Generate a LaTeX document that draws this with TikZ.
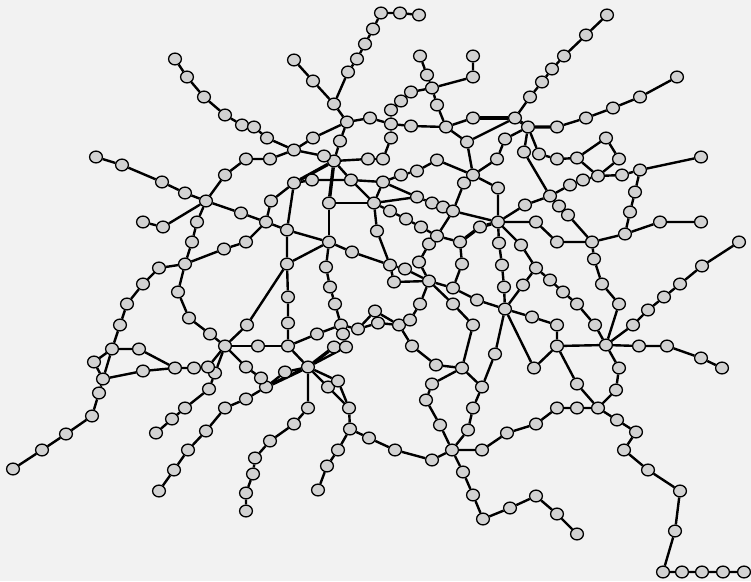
\documentclass[tikz,border=0pt]{standalone}
\usepackage{tikz}
\usetikzlibrary{shapes.geometric,backgrounds}
\definecolor{paper}{HTML}{F2F2F2}
\definecolor{stopfill}{HTML}{D2D2D2}

\begin{document}
\begin{tikzpicture}[
  x=1pt, y=-1pt,
  station/.style={draw, ellipse, line width=1.3pt, fill=stopfill, minimum width=12.8pt, minimum height=11.8pt, inner sep=0pt},
  line/.style={line width=2.4pt},
  heavy/.style={line width=3.4pt}
]
\useasboundingbox (0,0) rectangle (751,581);

% Stations
\foreach \x/\y in {175/59,187/77,204/97,225/115,242/125,254/127,267/138,294/150,
  294/60,313/81,334/104,348/72,357/59,365/44,373/29,381/13,400/13,419/15,
  347/122,370/118,391/124,411/126,446/127,473/118,515/118,391/110,401/101,411/92,432/88,427/75,420/56,473/77,473/56,437/105,467/142,473/175,
  391/138,383/159,368/159,334/161,340/141,313/138,324/156,270/159,246/159,225/175,206/201,185/193,162/182,122/165,96/157,
  294/183,312/180,351/180,383/182,271/201,329/203,374/203,401/175,417/171,437/160,464/183,497/159,505/139,498/188,417/197,432/203,443/207,453/211,
  530/97,542/82,552/69,564/56,586/35,607/15,528/127,557/127,586/118,613/108,640/97,677/77,
  524/152,539/154,557/159,577/158,606/138,619/159,598/176,622/175,640/170,701/157,635/192,583/180,570/185,550/196,
  630/212,625/234,660/222,701/222,592/242,557/242,536/222,498/222,525/205,559/206,568/215,
  521/245,536/268,550/280,563/292,577/304,595/325,606/345,594/259,602/284,619/304,633/325,648/310,664/297,680/284,702/266,739/242,
  639/346,667/346,701/358,722/368,619/368,616/390,557/346,557/325,532/317,505/309,523/285,534/368,577/384,
  499/243,502/265,504/287,
  598/408,577/408,557/408,536/424,507/433,617/420,636/432,624/450,648/470,680/491,675/531,663/572,682/572,702/572,723/572,744/572,
  510/508,536/496,557/514,577/534,483/519,473/495,463/472,452/450,482/450,432/460,395/450,369/438,350/429,338/450,327/466,318/490,349/408,
  468/430,473/408,482/387,495/354,440/425,426/400,432/384,462/368,436/365,412/346,399/325,
  308/367,308/408,294/424,270/441,255/458,253/474,246/493,246/511,
  328/387,338/381,
  285/372,266/387,261/378,246/367,225/346,258/346,288/346,246/399,225/408,206/431,188/450,174/470,159/491,
  215/373,209/389,185/408,172/419,156/433,208/367,194/368,175/368,143/371,103/379,139/349,112/349,94/362,
  99/393,92/416,66/434,42/450,13/469,
  120/325,127/304,143/284,159/268,185/264,192/242,197/222,163/227,143/222,241/213,266/222,287/230,246/242,224/249,
  178/292,189/318,210/334,247/325,
  329/242,287/264,288/297,288/323,352/252,390/265,377/231,405/269,394/282,429/281,419/262,429/244,437/236,421/227,406/219,390/211,460/242,480/227,462/264,453/288,477/300,
  326/267,330/287,335/304,341/325,317/334,343/334,358/329,375/311,378/323,334/347,346/347,
  410/320,420/304,453/304,473/325}
  \node[station] (v\x-\y) at (\x,\y) {};

\begin{scope}[on background layer]
\fill[paper] (0,0) rectangle (751,581);

% Top left
\draw[line] (v175-59) -- (v187-77) -- (v204-97) -- (v225-115) -- (v242-125) -- (v254-127) -- (v267-138) -- (v294-150);
\draw[line] (v294-150) -- (v313-138) -- (v347-122);
\draw[line] (v294-150) -- (v324-156) -- (v334-161);
\draw[line] (v294-150) -- (v270-159) -- (v246-159) -- (v225-175) -- (v206-201);
\draw[line] (v96-157) -- (v122-165) -- (v162-182) -- (v185-193) -- (v206-201);
\draw[line] (v143-222) -- (v163-227) -- (v206-201);
\draw[line] (v206-201) -- (v197-222) -- (v192-242) -- (v185-264);
\draw[line] (v206-201) -- (v241-213) -- (v266-222);
\draw[line] (v185-264) -- (v224-249) -- (v246-242) -- (v266-222);

% Top middle
\draw[line] (v294-60) -- (v313-81) -- (v334-104) -- (v347-122);
\draw[line] (v334-104) -- (v348-72) -- (v357-59) -- (v365-44) -- (v373-29) -- (v381-13) -- (v400-13) -- (v419-15);
\draw[line] (v347-122) -- (v370-118) -- (v391-124) -- (v411-126) -- (v446-127);
\draw[line] (v347-122) -- (v340-141) -- (v334-161);
\draw[line] (v391-124) -- (v391-110) -- (v401-101) -- (v411-92) -- (v432-88);
\draw[line] (v420-56) -- (v427-75) -- (v432-88) -- (v437-105) -- (v446-127);
\draw[line] (v473-56) -- (v473-77) -- (v432-88);
\draw[line] (v391-124) -- (v391-138) -- (v383-159) -- (v368-159) -- (v334-161);
\draw[line] (v446-127) -- (v473-118);
\draw[heavy] (v473-118) -- (v515-118);
\draw[line] (v446-127) -- (v467-142) -- (v515-118);
\draw[line] (v467-142) -- (v473-175);

% Top right
\draw[line] (v515-118) -- (v530-97) -- (v542-82) -- (v552-69) -- (v564-56) -- (v586-35) -- (v607-15);
\draw[heavy] (v515-118) -- (v528-127) -- (v557-127);
\draw[line] (v557-127) -- (v586-118) -- (v613-108) -- (v640-97) -- (v677-77);
\draw[line] (v528-127) -- (v505-139) -- (v497-159) -- (v473-175);
\draw[line] (v528-127) -- (v524-152) -- (v550-196);
\draw[line] (v528-127) -- (v539-154) -- (v557-159) -- (v577-158) -- (v606-138) -- (v619-159) -- (v598-176) -- (v577-158);
\draw[line] (v598-176) -- (v622-175) -- (v640-170) -- (v701-157);
\draw[line] (v640-170) -- (v635-192) -- (v630-212) -- (v625-234) -- (v660-222) -- (v701-222);
\draw[line] (v598-176) -- (v583-180) -- (v570-185) -- (v550-196);
\draw[line] (v550-196) -- (v559-206) -- (v568-215) -- (v592-242) -- (v625-234);
\draw[line] (v498-222) -- (v525-205) -- (v550-196);
\draw[line] (v498-222) -- (v536-222) -- (v557-242) -- (v592-242);

% Hub around 334,161
\draw[line] (v334-161) -- (v351-180) -- (v374-203);
\draw[heavy] (v334-161) -- (v294-183);
\draw[heavy] (v334-161) -- (v329-203);
\draw[line] (v294-183) -- (v312-180) -- (v351-180) -- (v383-182);
\draw[line] (v294-183) -- (v271-201) -- (v266-222);
\draw[line] (v294-183) -- (v287-230);
\draw[line] (v383-182) -- (v401-175) -- (v417-171) -- (v437-160) -- (v473-175) -- (v464-183) -- (v453-211);
\draw[line] (v383-182) -- (v374-203);
\draw[line] (v383-182) -- (v417-197);
\draw[line] (v374-203) -- (v417-197) -- (v432-203) -- (v443-207) -- (v453-211);
\draw[line] (v329-203) -- (v374-203);
\draw[line] (v329-203) -- (v329-242);
\draw[line] (v374-203) -- (v390-211) -- (v406-219) -- (v421-227) -- (v437-236);
\draw[line] (v374-203) -- (v377-231) -- (v390-265);
\draw[line] (v473-175) -- (v498-188) -- (v498-222);
\draw[line] (v453-211) -- (v498-222);
\draw[line] (v453-211) -- (v437-236);
\draw[line] (v437-236) -- (v460-242);
\draw[heavy] (v460-242) -- (v480-227) -- (v498-222);
\draw[line] (v437-236) -- (v429-244) -- (v419-262) -- (v429-281);
\draw[line] (v460-242) -- (v462-264) -- (v453-288);

% Hub around 498,222
\draw[line] (v498-222) -- (v499-243) -- (v502-265) -- (v504-287) -- (v505-309);
\draw[line] (v498-222) -- (v521-245) -- (v536-268) -- (v550-280) -- (v563-292) -- (v577-304) -- (v595-325) -- (v606-345);
\draw[line] (v536-268) -- (v523-285) -- (v505-309);
\draw[line] (v592-242) -- (v594-259) -- (v602-284) -- (v619-304) -- (v606-345);
\draw[line] (v606-345) -- (v633-325) -- (v648-310) -- (v664-297) -- (v680-284) -- (v702-266) -- (v739-242);
\draw[line] (v606-345) -- (v639-346) -- (v667-346) -- (v701-358) -- (v722-368);
\draw[line] (v606-345) -- (v557-346);
\draw[line] (v606-345) -- (v619-368) -- (v616-390) -- (v598-408);
\draw[line] (v505-309) -- (v532-317) -- (v557-325) -- (v557-346) -- (v534-368) -- (v505-309);
\draw[line] (v557-346) -- (v577-384) -- (v598-408);
\draw[line] (v505-309) -- (v495-354) -- (v482-387);

% Bottom right
\draw[line] (v598-408) -- (v577-408) -- (v557-408) -- (v536-424) -- (v507-433) -- (v482-450) -- (v452-450);
\draw[line] (v598-408) -- (v617-420) -- (v636-432) -- (v624-450) -- (v648-470) -- (v680-491) -- (v675-531) -- (v663-572) -- (v682-572) -- (v702-572) -- (v723-572) -- (v744-572);
\draw[line] (v452-450) -- (v463-472) -- (v473-495) -- (v483-519) -- (v510-508) -- (v536-496) -- (v557-514) -- (v577-534);
\draw[line] (v452-450) -- (v432-460) -- (v395-450) -- (v369-438) -- (v350-429) -- (v338-450) -- (v327-466) -- (v318-490);
\draw[line] (v452-450) -- (v468-430) -- (v473-408) -- (v482-387) -- (v462-368);
\draw[line] (v452-450) -- (v440-425) -- (v426-400) -- (v432-384) -- (v462-368);

% Centre
\draw[line] (v287-230) -- (v266-222);
\draw[line] (v287-230) -- (v329-242);
\draw[line] (v287-230) -- (v287-264) -- (v288-297) -- (v288-323) -- (v288-346);
\draw[line] (v287-264) -- (v329-242);
\draw[line] (v287-264) -- (v247-325) -- (v225-346);
\draw[line] (v329-242) -- (v352-252) -- (v390-265) -- (v394-282) -- (v429-281);
\draw[line] (v390-265) -- (v405-269) -- (v429-281);
\draw[line] (v329-242) -- (v326-267) -- (v330-287) -- (v335-304) -- (v341-325);
\draw[line] (v341-325) -- (v317-334) -- (v288-346);
\draw[line] (v341-325) -- (v343-334) -- (v346-347) -- (v334-347);
\draw[line] (v341-325) -- (v358-329) -- (v378-323) -- (v399-325);
\draw[line] (v358-329) -- (v375-311) -- (v399-325);
\draw[line] (v399-325) -- (v410-320) -- (v420-304) -- (v429-281);
\draw[line] (v399-325) -- (v412-346) -- (v436-365) -- (v462-368);
\draw[line] (v429-281) -- (v453-304) -- (v473-325) -- (v462-368);
\draw[line] (v429-281) -- (v453-288) -- (v477-300) -- (v505-309);

% Hub around 308,367
\draw[line] (v288-346) -- (v308-367);
\draw[heavy] (v308-367) -- (v334-347);
\draw[line] (v308-367) -- (v346-347);
\draw[line] (v308-367) -- (v338-381) -- (v349-408);
\draw[line] (v308-367) -- (v328-387) -- (v349-408) -- (v350-429);
\draw[line] (v308-367) -- (v308-408) -- (v294-424) -- (v270-441) -- (v255-458) -- (v253-474) -- (v246-493) -- (v246-511);
\draw[heavy] (v308-367) -- (v266-387);
\draw[line] (v285-372) -- (v308-367);
\draw[line] (v285-372) -- (v266-387);
\draw[line] (v225-346) -- (v258-346) -- (v288-346);
\draw[line] (v225-346) -- (v246-367) -- (v261-378) -- (v266-387) -- (v246-399) -- (v225-408) -- (v206-431) -- (v188-450) -- (v174-470) -- (v159-491);

% Left
\draw[line] (v225-346) -- (v208-367) -- (v194-368) -- (v175-368) -- (v143-371) -- (v103-379);
\draw[line] (v225-346) -- (v215-373) -- (v209-389) -- (v185-408) -- (v172-419) -- (v156-433);
\draw[line] (v225-346) -- (v210-334) -- (v189-318) -- (v178-292) -- (v185-264);
\draw[line] (v185-264) -- (v159-268) -- (v143-284) -- (v127-304) -- (v120-325) -- (v112-349) -- (v139-349) -- (v175-368);
\draw[line] (v112-349) -- (v94-362) -- (v103-379) -- (v112-349);
\draw[line] (v103-379) -- (v99-393) -- (v92-416) -- (v66-434) -- (v42-450) -- (v13-469);
\end{scope}

\end{tikzpicture}
\end{document}
